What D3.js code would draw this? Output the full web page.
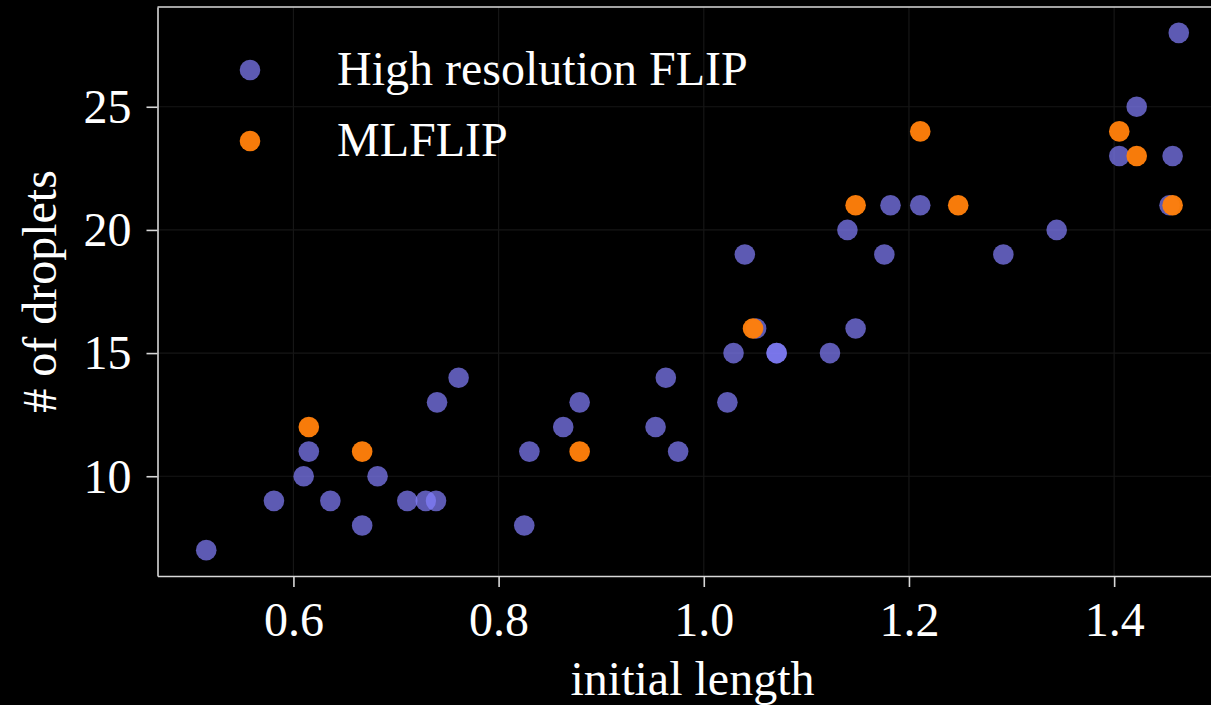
<!DOCTYPE html>
<html>
<head>
<meta charset="utf-8">
<script src="https://cdn.jsdelivr.net/npm/d3@7"></script>
<style>
  html, body { margin: 0; padding: 0; background: #000; }
  svg { display: block; }
  text { font-family: "Liberation Serif", "DejaVu Serif", serif; fill: #ffffff; }
</style>
</head>
<body>
<svg id="chart" width="1211" height="705"></svg>
<script>
// High resolution FLIP
const hrX = [0.515, 0.581, 0.610, 0.615, 0.636, 0.667, 0.682, 0.711, 0.729, 0.739,
             0.740, 0.761, 0.825, 0.830, 0.863, 0.879, 0.953, 0.963, 0.975, 1.023,
             1.029, 1.040, 1.051, 1.071, 1.071, 1.123, 1.140, 1.148, 1.176, 1.182,
             1.211, 1.292, 1.344, 1.405, 1.422, 1.454, 1.457, 1.463];
const hrY = [7, 9, 10, 11, 9, 8, 10, 9, 9, 9,
             13, 14, 8, 11, 12, 13, 12, 14, 11, 13,
             15, 19, 16, 15, 15, 15, 20, 16, 19, 21,
             21, 19, 20, 23, 25, 21, 23, 28];
// MLFLIP
const mlX = [0.615, 0.667, 0.879, 1.048, 1.148, 1.211, 1.248, 1.405, 1.422, 1.457];
const mlY = [12, 11, 11, 16, 21, 24, 21, 24, 23, 21];

const xTicks = [0.6, 0.8, 1.0, 1.2, 1.4];
const yTicks = [10, 15, 20, 25];
const seriesNames = ["High resolution FLIP", "MLFLIP"];
const seriesColors = ["#8480ff", "#ff7f0a"];

const svg = d3.select("#chart");
const pLeft = 157.5, pRight = 1227.5, pTop = 7, pBottom = 576;

const x = d3.scaleLinear().domain([0.4675, 1.5105]).range([pLeft, pRight]);
const y = d3.scaleLinear().domain([5.95, 29.05]).range([pBottom, pTop]);

// grid
const grid = svg.append("g");
grid.selectAll("line.gx").data(xTicks).enter().append("line")
  .attr("x1", d => x(d)).attr("x2", d => x(d))
  .attr("y1", pTop).attr("y2", pBottom)
  .attr("stroke", "#161616").attr("stroke-width", 1.2);
grid.selectAll("line.gy").data(yTicks).enter().append("line")
  .attr("y1", d => y(d)).attr("y2", d => y(d))
  .attr("x1", pLeft).attr("x2", pRight)
  .attr("stroke", "#161616").attr("stroke-width", 1.2);

// points
const pts = svg.append("g");
pts.selectAll("circle.hr").data(hrX.map((v, i) => [v, hrY[i]])).enter().append("circle")
  .attr("cx", d => x(d[0])).attr("cy", d => y(d[1])).attr("r", 10.3)
  .attr("fill", seriesColors[0]).attr("fill-opacity", 0.7);
pts.selectAll("circle.ml").data(mlX.map((v, i) => [v, mlY[i]])).enter().append("circle")
  .attr("cx", d => x(d[0])).attr("cy", d => y(d[1])).attr("r", 10.3)
  .attr("fill", seriesColors[1]).attr("fill-opacity", 0.97);

// axes
const xAxis = d3.axisBottom(x).tickValues(xTicks).tickFormat(d3.format(".1f"))
  .tickSizeInner(11).tickSizeOuter(0).tickPadding(14);
const yAxis = d3.axisLeft(y).tickValues(yTicks).tickFormat(d3.format("d"))
  .tickSizeInner(11).tickSizeOuter(0).tickPadding(15);

const gx = svg.append("g").attr("transform", `translate(0,${pBottom})`).call(xAxis);
const gy = svg.append("g").attr("transform", `translate(${pLeft},0)`).call(yAxis);
[gx, gy].forEach(g => {
  g.select(".domain").attr("stroke", "#d8d8d8").attr("stroke-width", 1.6);
  g.selectAll(".tick line").attr("stroke", "#d8d8d8").attr("stroke-width", 1.6);
  g.selectAll(".tick text").attr("fill", "#ffffff")
    .style("font-family", '"Liberation Serif", serif').style("font-size", "48px");
});
gy.selectAll(".tick text").attr("dy", "0.33em");
gx.selectAll(".tick text").attr("dy", "0.72em");

// top spine
svg.append("line").attr("x1", pLeft).attr("x2", pRight).attr("y1", pTop).attr("y2", pTop)
  .attr("stroke", "#d8d8d8").attr("stroke-width", 1.6);

// axis labels
svg.append("text").attr("x", (pLeft + pRight) / 2).attr("y", 695)
  .attr("text-anchor", "middle").style("font-size", "48px").text("initial length");
svg.append("text")
  .attr("transform", `translate(56,${(pTop + pBottom) / 2}) rotate(-90)`)
  .attr("text-anchor", "middle").style("font-size", "48px").text("# of droplets");

// legend
const legend = svg.append("g");
const legY = [70, 141];
seriesNames.forEach((name, i) => {
  legend.append("circle").attr("cx", 250).attr("cy", legY[i]).attr("r", 10.3)
    .attr("fill", seriesColors[i]).attr("fill-opacity", i === 0 ? 0.7 : 0.97);
  legend.append("text").attr("x", 337).attr("y", legY[i] + 15)
    .style("font-size", "48px").text(name);
});
</script>
</body>
</html>
